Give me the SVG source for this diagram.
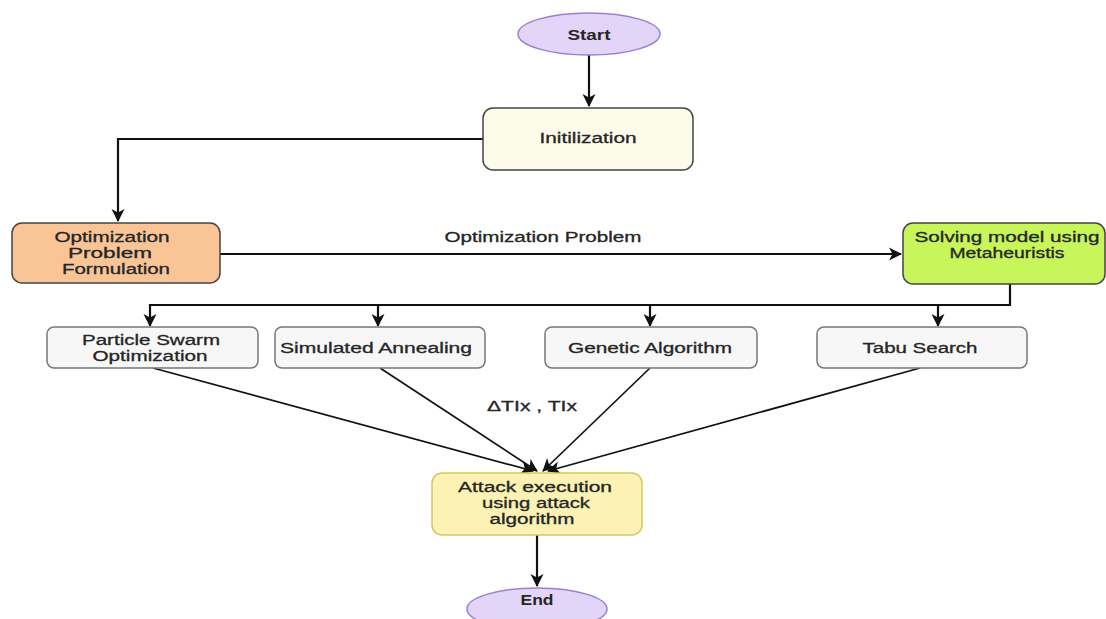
<svg xmlns="http://www.w3.org/2000/svg" width="1106" height="619" viewBox="0 0 1106 619">
<style>
text{font-family:"Liberation Sans",Arial,sans-serif;font-size:14px;fill:#262626;stroke:#262626;stroke-width:0.3;text-anchor:middle}
.b{font-weight:bold;stroke-width:0;font-size:15px}
.term{fill:#e3d5f8;stroke:#9c80d0;stroke-width:1.5}
.proc{fill:#f7f7f7;stroke:#777;stroke-width:1.5}
.c{fill:none;stroke:#111;stroke-width:2.2}
.d{fill:none;stroke:#111;stroke-width:1.7}
</style>
<defs>
<marker id="ah" markerWidth="14" markerHeight="14" refX="12" refY="7" orient="auto" markerUnits="userSpaceOnUse">
<path d="M0,0.5 L13,7 L0,13.5 L3.5,7 Z" fill="#111"/>
</marker>
</defs>
<rect width="1106" height="619" fill="#fff"/>
<g id="connectors">
<path class="c" d="M589,55 V106" marker-end="url(#ah)"/>
<path class="c" d="M483,139 H118 V221" marker-end="url(#ah)"/>
<path class="c" d="M220,254 H901" marker-end="url(#ah)"/>
<path class="c" d="M1010,284 V305 H150 V326" marker-end="url(#ah)"/>
<path class="c" d="M378,305 V326" marker-end="url(#ah)"/>
<path class="c" d="M650,305 V326" marker-end="url(#ah)"/>
<path class="c" d="M938,305 V326" marker-end="url(#ah)"/>
<path class="d" d="M153,368 L533,471" marker-end="url(#ah)"/>
<path class="d" d="M380,368 L537,471" marker-end="url(#ah)"/>
<path class="d" d="M650,368 L543,471" marker-end="url(#ah)"/>
<path class="d" d="M920,368 L548,471" marker-end="url(#ah)"/>
<path class="c" d="M537,535 V586" marker-end="url(#ah)"/>
<text x="543" y="242" textLength="197" lengthAdjust="spacingAndGlyphs">Optimization Problem</text>
<text x="532" y="411" textLength="90" lengthAdjust="spacingAndGlyphs">ΔTIx , TIx</text>
</g>
<g id="start">
<ellipse class="term" cx="589" cy="34" rx="71" ry="21"/>
<text class="b" x="589" y="40" textLength="43" lengthAdjust="spacingAndGlyphs">Start</text>
</g>
<g id="init">
<rect x="483" y="108" width="210" height="62" rx="10" fill="#fdfbea" stroke="#444" stroke-width="1.5"/>
<text x="588" y="143" textLength="97" lengthAdjust="spacingAndGlyphs">Initilization</text>
</g>
<g id="opt">
<rect x="12" y="223" width="208" height="60" rx="10" fill="#f9c496" stroke="#444" stroke-width="1.5"/>
<text x="112" y="242" textLength="115" lengthAdjust="spacingAndGlyphs">Optimization</text>
<text x="110" y="258" textLength="84" lengthAdjust="spacingAndGlyphs">Problem</text>
<text x="116" y="274" textLength="108" lengthAdjust="spacingAndGlyphs">Formulation</text>
</g>
<g id="solve">
<rect x="903" y="223" width="202" height="61" rx="10" fill="#c8f55a" stroke="#444" stroke-width="1.5"/>
<text x="1007" y="242" textLength="185" lengthAdjust="spacingAndGlyphs">Solving model using</text>
<text x="1007" y="258" textLength="115" lengthAdjust="spacingAndGlyphs">Metaheuristis</text>
</g>
<g id="pso">
<rect class="proc" x="47" y="327" width="211" height="41" rx="7"/>
<text x="151" y="345" textLength="138" lengthAdjust="spacingAndGlyphs">Particle Swarm</text>
<text x="150" y="361" textLength="115" lengthAdjust="spacingAndGlyphs">Optimization</text>
</g>
<g id="sa">
<rect class="proc" x="275" y="327" width="210" height="41" rx="7"/>
<text x="376" y="353" textLength="192" lengthAdjust="spacingAndGlyphs">Simulated Annealing</text>
</g>
<g id="ga">
<rect class="proc" x="545" y="327" width="212" height="41" rx="7"/>
<text x="650" y="353" textLength="164" lengthAdjust="spacingAndGlyphs">Genetic Algorithm</text>
</g>
<g id="tabu">
<rect class="proc" x="817" y="327" width="210" height="41" rx="7"/>
<text x="920" y="353" textLength="115" lengthAdjust="spacingAndGlyphs">Tabu Search</text>
</g>
<g id="attack">
<rect x="432" y="473" width="210" height="62" rx="10" fill="#fbf2b4" stroke="#d8c560" stroke-width="1.5"/>
<text x="535" y="492" textLength="154" lengthAdjust="spacingAndGlyphs">Attack execution</text>
<text x="536" y="508" textLength="108" lengthAdjust="spacingAndGlyphs">using attack</text>
<text x="532" y="524" textLength="85" lengthAdjust="spacingAndGlyphs">algorithm</text>
</g>
<g id="end">
<ellipse class="term" cx="537" cy="609" rx="70" ry="21"/>
<text class="b" x="537" y="605" textLength="33" lengthAdjust="spacingAndGlyphs">End</text>
</g>
</svg>
